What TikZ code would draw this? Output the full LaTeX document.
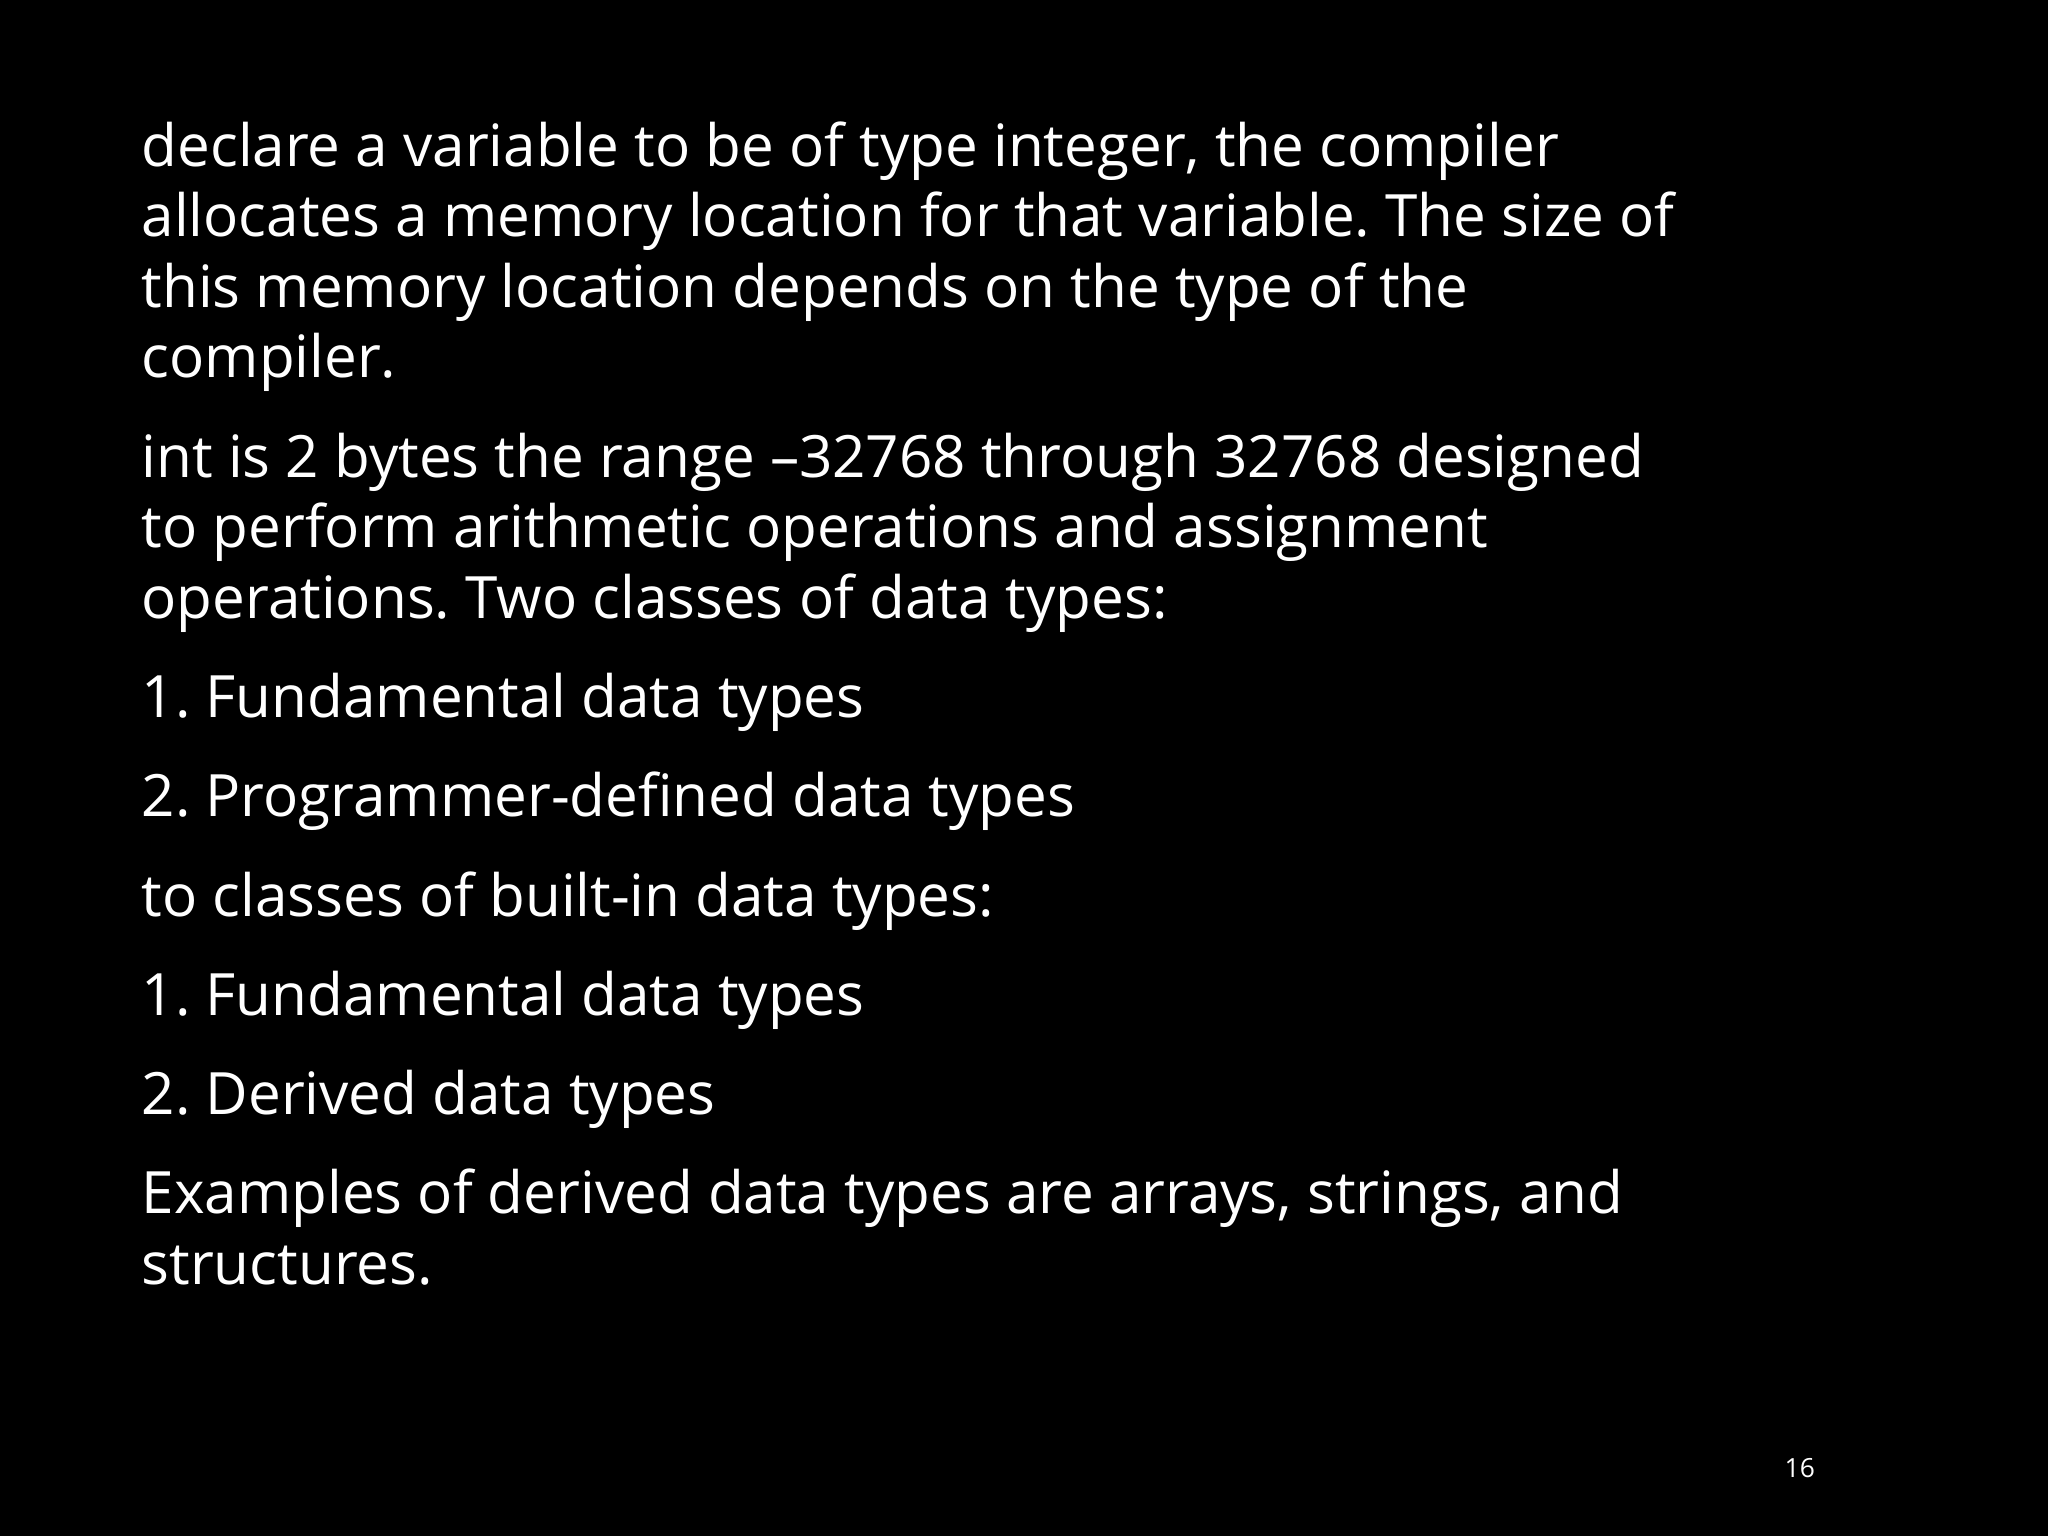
\documentclass[tikz,border=0pt]{standalone}
\usepackage{fontspec}
\setmainfont{Open Sans}
\frenchspacing
\begin{document}
\begin{tikzpicture}[x=0.01cm,y=-0.01cm,
  ln/.style={anchor=base west,inner sep=0pt,text=white,font=\fontsize{16.6}{20}\selectfont}]
\fill[black] (0,0) rectangle (2048,1536);
\useasboundingbox (0,0) rectangle (2048,1536);
\node[ln] (l1) at (141,166) {declare a variable to be of type integer, the compiler};
\node[ln] (l2) at (141,236) {allocates a memory location for that variable. The size of};
\node[ln] (l3) at (141,307) {this memory location depends on the type of the};
\node[ln] (l4) at (141,377) {compiler.};
\node[ln] (l5) at (141,477) {int is 2 bytes the range –32768 through 32768 designed};
\node[ln] (l6) at (141,547) {to perform arithmetic operations and assignment};
\node[ln] (l7) at (141,618) {operations. Two classes of data types:};
\node[ln] (l8) at (141,717) {1. Fundamental data types};
\node[ln] (l9) at (141,816) {2. Programmer-defined data types};
\node[ln] (l10) at (141,916) {to classes of built-in data types:};
\node[ln] (l11) at (141,1015) {1. Fundamental data types};
\node[ln] (l12) at (141,1114) {2. Derived data types};
\node[ln] (l13) at (141,1213) {Examples of derived data types are arrays, strings, and};
\node[ln] (l14) at (141,1284) {structures.};
\node[anchor=base west,inner sep=0pt,text=white,font=\fontsize{7.5}{9}\selectfont] (pg) at (1784,1477) {16};
\end{tikzpicture}
\end{document}
